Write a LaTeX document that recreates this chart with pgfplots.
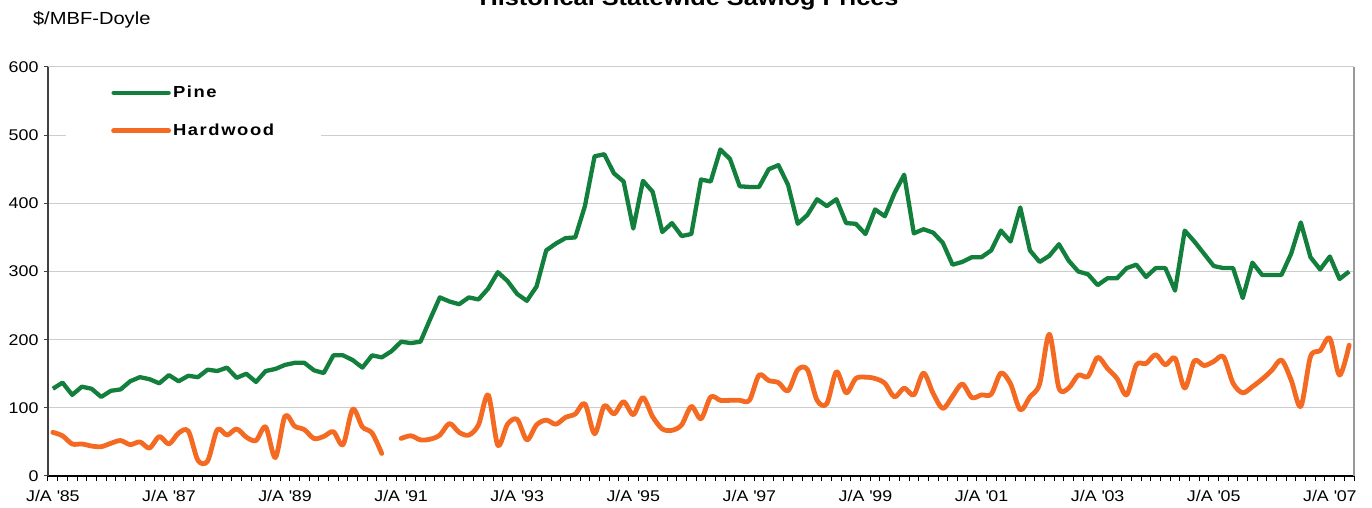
\documentclass[border=0pt]{standalone}
\usepackage{pgfplots}
\pgfplotsset{compat=1.18}
\usepackage{pgfplotstable}
\usepackage{fontspec}
\setmainfont{Liberation Sans}[FakeStretch=1.15]
\definecolor{pinec}{RGB}{18,128,60}
\definecolor{hwc}{RGB}{245,106,34}
\definecolor{gridc}{RGB}{205,205,205}
\pgfplotstableread{
i pine hw
0 128 64
1 137 59
2 119 47
3 131 47
4 128 44
5 116 43
6 125 48
7 127 52
8 139 46
9 145 50
10 142 41
11 136 58
12 148 47
13 139 63
14 147 66
15 145 23
16 156 22
17 154 68
18 159 60
19 144 69
20 150 57
21 138 52
22 154 72
23 157 27
24 163 88
25 166 73
26 166 68
27 155 55
28 151 58
29 177 65
30 177 46
31 170 98
32 159 72
33 177 63
34 174 33
35 183 nan
36 197 55
37 195 59
38 197 53
39 230 54
40 262 60
41 256 77
42 252 64
43 262 60
44 259 75
45 275 119
46 299 45
47 286 76
48 267 83
49 257 53
50 278 75
51 331 82
52 341 76
53 349 86
54 350 91
55 396 106
56 469 62
57 472 103
58 444 91
59 432 109
60 363 90
61 433 115
62 417 87
63 358 69
64 371 67
65 352 75
66 355 102
67 435 84
68 432 116
69 479 111
70 465 111
71 425 111
72 424 111
73 424 148
74 450 140
75 456 137
76 427 125
77 370 156
78 383 156
79 406 111
80 396 106
81 406 153
82 371 122
83 370 143
84 355 145
85 391 143
86 381 136
87 415 116
88 442 129
89 356 119
90 362 151
91 357 121
92 342 99
93 310 117
94 314 135
95 321 115
96 321 119
97 331 120
98 360 151
99 344 135
100 394 97
101 331 116
102 314 135
103 323 208
104 340 129
105 316 129
106 300 148
107 296 146
108 280 174
109 290 158
110 290 143
111 305 119
112 310 163
113 292 165
114 305 178
115 305 163
116 272 173
117 360 129
118 344 169
119 326 162
120 308 168
121 305 175
122 305 136
123 261 122
124 313 131
125 295 142
126 295 155
127 295 170
128 326 141
129 372 102
130 321 175
131 303 184
132 322 202
133 289 148
134 300 192
}\datatable
\begin{document}
\begin{tikzpicture}
\useasboundingbox (-48pt,-32pt) rectangle (1324pt,476pt);
\begin{axis}[
  at={(0pt,0pt)}, anchor=south west,
  scale only axis, width=1306pt, height=409pt,
  xmin=-0.5, xmax=134.5, ymin=0, ymax=600,
  axis x line*=bottom, axis y line*=left,
  x axis line style={black, line width=1.6pt, -},
  y axis line style={black!75, line width=1.6pt, -},
  ytick={0,100,...,600},
  ymajorgrids, major grid style={gridc, line width=1pt},
  xtick={0,12,...,132},
  xticklabels={J/A \textquotesingle85,J/A \textquotesingle87,J/A \textquotesingle89,J/A \textquotesingle91,J/A \textquotesingle93,J/A \textquotesingle95,J/A \textquotesingle97,J/A \textquotesingle99,J/A \textquotesingle01,J/A \textquotesingle03,J/A \textquotesingle05,J/A \textquotesingle07},
  minor xtick={-0.5,0.5,...,134.5},
  tick align=outside,
  major tick length=4pt, minor tick length=5pt,
  x tick style={draw=none},
  minor x tick style={draw=black, line width=1pt},
  y tick style={black!75, line width=1pt},
  /pgf/number format/assume math mode=true,
  ticklabel style={font=\fontsize{15.5}{15.5}\selectfont},
  xticklabel style={yshift=-7pt},
  yticklabel style={xshift=-2pt},
  legend style={at={(rel axis cs:0.0138,0.978)}, anchor=north west, draw=none, fill=white,
    inner xsep=45pt, inner ysep=8pt, row sep=21pt,
    font=\bfseries\addfontfeature{LetterSpace=10}\fontsize{16}{16}\selectfont,
    nodes={inner xsep=2pt, inner ysep=2pt}},
  legend cell align=left,
  legend image code/.code={\draw[#1, line cap=round] (0pt,0pt) -- (55pt,0pt);},
  after end axis/.code={\draw[black!40, line width=1.2pt] (rel axis cs:1,0) -- (rel axis cs:1,1);},
  clip=false,
]
\addplot[pinec, line width=4.3pt, line join=round] table[x=i, y=pine] {\datatable};
\addlegendentry{Pine}
\addplot[hwc, line width=4.8pt, smooth, tension=0.5, line join=round, line cap=round, restrict x to domain=0:34] table[x=i, y=hw] {\datatable};
\addlegendentry{Hardwood}
\addplot[hwc, line width=4.8pt, smooth, tension=0.5, line join=round, line cap=round, restrict x to domain=36:134, forget plot] table[x=i, y=hw] {\datatable};
\end{axis}
\node[anchor=base west, font=\fontsize{17.5}{18}\selectfont] at (-18.5pt,451pt) {\$/MBF-Doyle};
\node[anchor=base, font=\bfseries\fontsize{22}{24}\selectfont] at (641pt,470pt) {Historical Statewide Sawlog Prices};
\end{tikzpicture}
\end{document}
